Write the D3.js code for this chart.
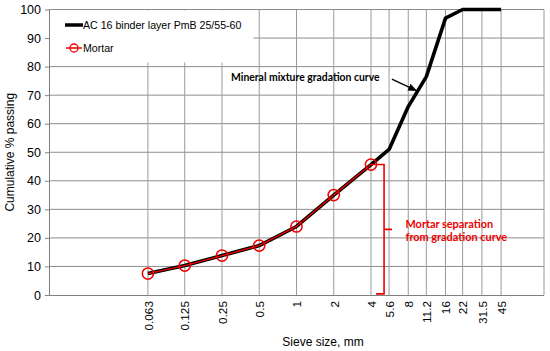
<!DOCTYPE html>
<html><head><meta charset="utf-8">
<script src="https://cdn.jsdelivr.net/npm/d3@7"></script>
<style>body{margin:0;background:#fff}svg{display:block}text{font-family:"Liberation Sans",Arial,sans-serif}</style>
</head><body><svg id="c" width="550" height="351"></svg>
<script>
const sieves = [0.063, 0.125, 0.25, 0.5, 1, 2, 4, 5.6, 8, 11.2, 16, 22, 31.5, 45];
const sieveLabels = ["0.063","0.125","0.25","0.5","1","2","4","5.6","8","11.2","16","22","31.5","45"];
const mixture = [7.5, 10.3, 13.8, 17.3, 24, 35, 45.7, 51, 66, 76.5, 97, 100, 100, 100];
const mortarSieves = [0.063, 0.125, 0.25, 0.5, 1, 2, 4];
const mortar = [7.5, 10.3, 13.8, 17.3, 24, 35, 45.7];
const yTicks = [0,10,20,30,40,50,60,70,80,90,100];
const seriesNames = ["AC 16 binder layer PmB 25/55-60", "Mortar"];
const bracket = {sieve: 5.1, from: 0.4, to: 45.7, mid: 23};
const arrowFrom = {sieve: 5.9, value: 75.6}, arrowTo = {sieve: 9.3, value: 71.6};

const svg = d3.select("#c");
const x = d3.scaleLog().domain([0.01, 100]).range([49, 544]);
const y = d3.scaleLinear().domain([0, 100]).range([295, 9.5]);

// gridlines
svg.append("g").selectAll("line").data(yTicks.slice(1)).join("line")
  .attr("x1", x.range()[0]).attr("x2", x.range()[1])
  .attr("y1", d => y(d)).attr("y2", d => y(d))
  .attr("stroke", "#8c8c8c").attr("stroke-width", 1);
svg.append("g").selectAll("line").data(sieves).join("line")
  .attr("x1", d => x(d)).attr("x2", d => x(d))
  .attr("y1", y(0)).attr("y2", y(100))
  .attr("stroke", "#9a9a9a").attr("stroke-width", 1);
svg.append("line").attr("x1", x.range()[1]).attr("x2", x.range()[1]).attr("y1", y(0)).attr("y2", y(100)).attr("stroke", "#9a9a9a");

// legend box (covers gridlines)
const lg = svg.append("g");
lg.append("rect").attr("x", 49.5).attr("y", y(100)+1).attr("width", 204).attr("height", 52).attr("fill", "#fff");
lg.append("line").attr("x1", 65).attr("x2", 83).attr("y1", 25).attr("y2", 25).attr("stroke", "#000").attr("stroke-width", 3.5);
lg.append("text").attr("x", 83).attr("y", 29).attr("font-size", 10.6).text(seriesNames[0]);
lg.append("line").attr("x1", 66).attr("x2", 82).attr("y1", 48).attr("y2", 48).attr("stroke", "#e00").attr("stroke-width", 1.5);
lg.append("circle").attr("cx", 74).attr("cy", 48).attr("r", 4).attr("fill", "none").attr("stroke", "#e00").attr("stroke-width", 1.3);
lg.append("text").attr("x", 83).attr("y", 52).attr("font-size", 10.6).text(seriesNames[1]);

// axes
const yAxis = d3.axisLeft(y).tickValues(yTicks).tickSize(4).tickPadding(4);
const gy = svg.append("g").attr("transform", `translate(${x.range()[0]},0)`).call(yAxis);
gy.selectAll("text").attr("font-size", 12.5).attr("fill", "#000").style("font-family", '"Liberation Sans",Arial,sans-serif');
gy.selectAll("line,path").attr("stroke", "#808080");
gy.select(".domain").attr("d", `M0.5,${y(0)}V${y(100)}`);

const xAxis = d3.axisBottom(x).tickValues(sieves).tickFormat((d,i) => sieveLabels[i]).tickSize(0).tickPadding(0);
const gx = svg.append("g").attr("transform", `translate(0,${y(0)})`).call(xAxis);
gx.select(".domain").attr("stroke", "#808080").attr("d", `M${x.range()[0]},0.5H${x.range()[1]}`);
gx.selectAll("text").attr("font-size", 11.8).attr("fill", "#000")
  .style("font-family", '"Liberation Sans",Arial,sans-serif')
  .attr("text-anchor", "end").attr("transform", "rotate(-90)")
  .attr("x", -6).attr("y", 0).attr("dy", "0.36em");

// axis titles
svg.append("text").attr("transform", `translate(14,${(y(0)+y(100))/2}) rotate(-90)`)
  .attr("text-anchor", "middle").attr("font-size", 12).text("Cumulative % passing");
svg.append("text").attr("x", 323).attr("y", 346).attr("text-anchor", "middle").attr("font-size", 12).text("Sieve size, mm");

// series
const line = d3.line().x(d => x(d[0])).y(d => y(d[1]));
svg.append("path").datum(sieves.map((s,i) => [s, mixture[i]])).attr("d", line)
  .attr("fill", "none").attr("stroke", "#000").attr("stroke-width", 3.6).attr("stroke-linejoin", "round");
const md = mortarSieves.map((s,i) => [s, mortar[i]]);
svg.append("path").datum(md).attr("d", line).attr("fill", "none").attr("stroke", "#e00").attr("stroke-width", 1.4);
svg.append("g").selectAll("circle").data(md).join("circle")
  .attr("cx", d => x(d[0])).attr("cy", d => y(d[1])).attr("r", 5.6)
  .attr("fill", "none").attr("stroke", "#e00").attr("stroke-width", 1.5);

// bracket annotation
const bx = x(bracket.sieve);
svg.append("path")
  .attr("d", `M${x(4)},${y(bracket.to)}H${bx}V${y(bracket.from)}H${bx-8} M${bx},${y(bracket.mid)}H${bx+8}`)
  .attr("fill", "none").attr("stroke", "#e00").attr("stroke-width", 1.6);
const ann = svg.append("text").attr("font-size", 10.9).attr("font-weight", "bold").attr("fill", "#e00")
  .style("font-family", "Lato, sans-serif");
ann.append("tspan").attr("x", 405.5).attr("y", 228).text("Mortar separation");
ann.append("tspan").attr("x", 405.5).attr("y", 240.5).text("from gradation curve");

// arrow annotation
svg.append("defs").append("marker").attr("id", "ah").attr("viewBox", "0 0 10 10")
  .attr("refX", 9).attr("refY", 5).attr("markerWidth", 7).attr("markerHeight", 7).attr("orient", "auto")
  .append("path").attr("d", "M0,1L10,5L0,9z").attr("fill", "#000");
svg.append("line").attr("x1", x(arrowFrom.sieve)).attr("y1", y(arrowFrom.value))
  .attr("x2", x(arrowTo.sieve)).attr("y2", y(arrowTo.value))
  .attr("stroke", "#000").attr("stroke-width", 1.3).attr("marker-end", "url(#ah)");
svg.append("text").attr("x", 231).attr("y", 81).attr("font-size", 10.4).attr("font-weight", "bold")
  .style("font-family", "Lato, sans-serif").text("Mineral mixture gradation curve");
</script></body></html>
